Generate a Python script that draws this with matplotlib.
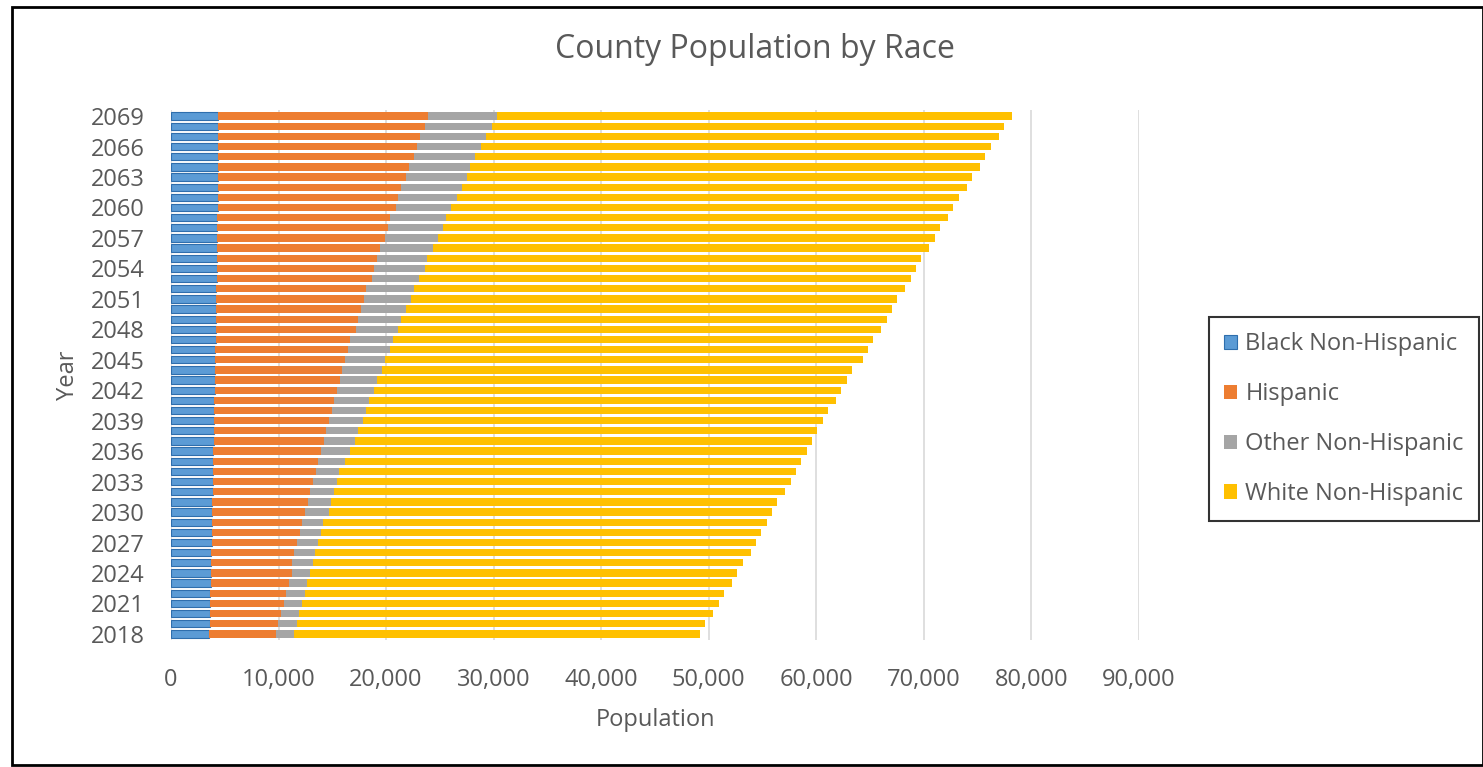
import matplotlib.pyplot as plt
from matplotlib.patches import Rectangle
from matplotlib.ticker import FuncFormatter

# years listed top (2069) to bottom (2018)
years = list(range(2069, 2017, -1))

# cumulative right edges, same order as years
black_end = [4400, 4400, 4400, 4400, 4380, 4380, 4360, 4360, 4340, 4340,
             4320, 4300, 4300, 4280, 4260, 4250, 4240, 4220, 4200, 4200,
             4180, 4160, 4140, 4120, 4100, 4090, 4080, 4060, 4040, 4020,
             4000, 3990, 3970, 3950, 3930, 3910, 3890, 3870, 3850, 3830,
             3810, 3790, 3770, 3750, 3730, 3710, 3690, 3670, 3650, 3620,
             3600, 3570]
hispanic_end = [23875, 23627, 23131, 22883, 22635, 22139, 21891, 21395, 21147, 20899,
                20403, 20155, 19906, 19410, 19162, 18914, 18666, 18170, 17922, 17674,
                17426, 17178, 16682, 16434, 16185, 15937, 15689, 15441, 15193, 14945,
                14697, 14449, 14201, 13953, 13705, 13457, 13209, 12961, 12713, 12465,
                12217, 11969, 11721, 11473, 11224, 11224, 10976, 10728, 10480, 10232,
                9984, 9736]
other_end = [30293, 29828, 29301, 28805, 28309, 27813, 27565, 27069, 26573, 26077,
             25581, 25333, 24836, 24340, 23844, 23596, 23100, 22604, 22356, 21860,
             21364, 21116, 20620, 20371, 19906, 19658, 19131, 18883, 18387, 18139,
             17891, 17395, 17147, 16651, 16155, 15659, 15411, 15162, 14914, 14666,
             14170, 13922, 13674, 13426, 13178, 12930, 12682, 12434, 12186, 11938,
             11690, 11441]
total = [78199, 77455, 76990, 76214, 75718, 75253, 74478, 73982, 73238, 72742,
         72246, 71502, 71005, 70509, 69765, 69269, 68773, 68277, 67533, 67037,
         66541, 66044, 65300, 64804, 64308, 63316, 62820, 62323, 61827, 61083,
         60587, 60091, 59595, 59099, 58603, 58107, 57611, 57114, 56370, 55874,
         55378, 54882, 54386, 53890, 53146, 52649, 52153, 51409, 50913, 50417,
         49673, 49177]

black = black_end
hispanic = [h - b for h, b in zip(hispanic_end, black_end)]
other = [o - h for o, h in zip(other_end, hispanic_end)]
white = [t - o for t, o in zip(total, other_end)]

series = [('Black Non-Hispanic', black, '#5B9BD5'),
          ('Hispanic', hispanic, '#ED7D31'),
          ('Other Non-Hispanic', other, '#A5A5A5'),
          ('White Non-Hispanic', white, '#FFC000')]

plt.rcParams['font.family'] = ['Open Sans', 'DejaVu Sans']
txt = '#595959'

fig = plt.figure(figsize=(14.83, 7.67), dpi=100)
ax = fig.add_axes([171 / 1483, 1 - 640 / 767, (1139 - 171) / 1483, 530 / 767])

ypos = list(range(len(years) - 1, -1, -1))  # 2069 on top
left = [0] * len(years)
for name, vals, color in series:
    if name == 'Black Non-Hispanic':
        ax.barh(ypos, vals, left=left, height=0.72, color=color,
                edgecolor='#2E6EAD', linewidth=0.8, label=name, zorder=3)
    else:
        ax.barh(ypos, vals, left=left, height=0.72, color=color,
                label=name, zorder=3)
    left = [l + v for l, v in zip(left, vals)]

ax.set_xlim(0, 90000)
ax.set_ylim(-0.6, len(years) - 0.4)
ax.set_xticks(range(0, 90001, 10000))
ax.xaxis.set_major_formatter(FuncFormatter(lambda v, p: f'{int(v):,}'))
tick_years = list(range(2018, 2070, 3))
ax.set_yticks([len(years) - 1 - years.index(y) for y in tick_years])
ax.set_yticklabels([str(y) for y in tick_years])
ax.grid(axis='x', color='#D9D9D9', linewidth=1.2, zorder=0)
for s in ax.spines.values():
    s.set_visible(False)
ax.tick_params(length=0, labelsize=17, colors=txt)
ax.tick_params(axis='y', pad=19)
ax.tick_params(axis='x', pad=20)

ax.set_xlabel('Population', fontsize=17, color=txt, labelpad=12)
ax.set_ylabel('Year', fontsize=17, color=txt, labelpad=8)
fig.text(755 / 1483, 1 - 50 / 767, 'County Population by Race', fontsize=23,
         color=txt, ha='center', va='center')

leg = fig.legend(loc='center', bbox_to_anchor=(1344 / 1483, 1 - 419 / 767),
                 fontsize=17, frameon=True, fancybox=False, handlelength=0.55,
                 handleheight=0.55, handletextpad=0.35, labelspacing=1.1,
                 borderpad=0.65, borderaxespad=0, labelcolor=txt)
leg.get_frame().set_edgecolor('black')
leg.get_frame().set_linewidth(1.5)

fig.patches.append(Rectangle((12 / 1483, 0.003), 1 - 12 / 1483, 1 - 7 / 767 - 0.003,
                             transform=fig.transFigure, fill=False,
                             edgecolor='black', linewidth=2))

plt.savefig('out.png', dpi=100)
